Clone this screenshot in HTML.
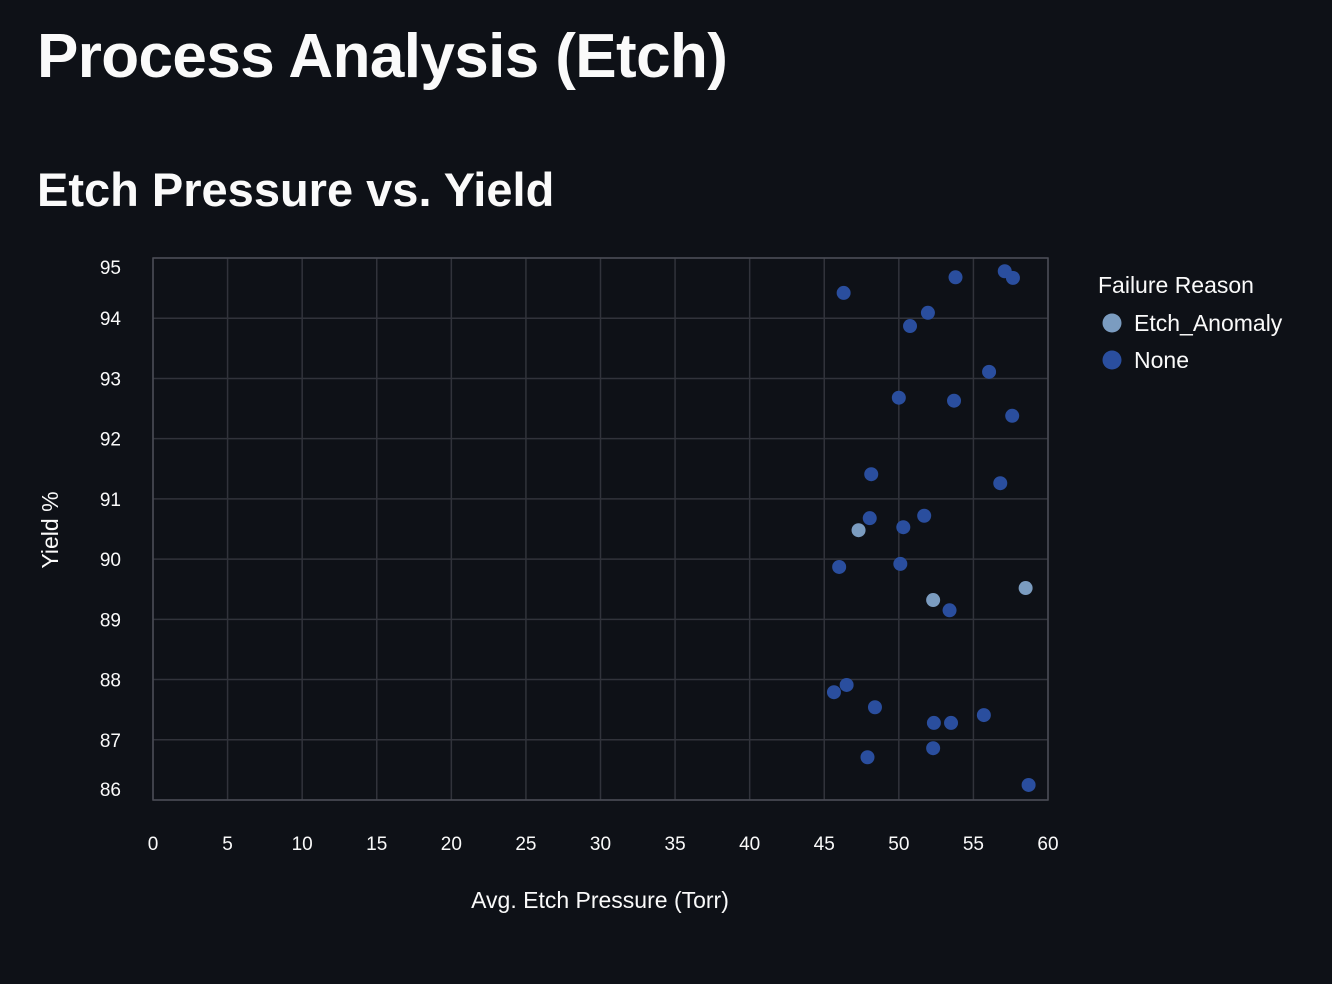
<!DOCTYPE html>
<html><head><meta charset="utf-8"><style>
html,body{margin:0;padding:0;background:#0e1117;width:1332px;height:984px;overflow:hidden;font-family:"Liberation Sans",sans-serif;color:#fafafa}
h1{position:absolute;left:37px;top:21px;margin:0;font-size:62px;font-weight:700;letter-spacing:-0.6px}
h2{position:absolute;left:37px;top:162px;margin:0;font-size:47px;font-weight:700;letter-spacing:0px}
svg{position:absolute;left:0;top:0}
</style></head><body>
<h1>Process Analysis (Etch)</h1>
<h2>Etch Pressure vs. Yield</h2>
<svg id="chart" width="1332" height="984"></svg>
<script>
const xTicks=[0,5,10,15,20,25,30,35,40,45,50,55,60];
const yTicks=[86,87,88,89,90,91,92,93,94,95];
const pressure=[57.1,53.8,57.65,46.3,51.95,50.75,56.05,50.0,53.7,57.6,48.15,56.8,51.7,48.05,50.3,47.3,46.0,50.1,58.5,52.3,53.4,46.5,45.65,48.4,55.7,52.35,53.5,52.3,47.9,58.7];
const yieldPct=[94.78,94.68,94.67,94.42,94.09,93.87,93.11,92.68,92.63,92.38,91.41,91.26,90.72,90.68,90.53,90.48,89.87,89.92,89.52,89.32,89.15,87.91,87.79,87.54,87.41,87.28,87.28,86.86,86.71,86.25];
const reason=["None","None","None","None","None","None","None","None","None","None","None","None","None","None","None","Etch_Anomaly","None","None","Etch_Anomaly","Etch_Anomaly","None","None","None","None","None","None","None","None","None","None"];
const categories=["Etch_Anomaly","None"];
const colors={"Etch_Anomaly":"#7b9cc0","None":"#2a4e9e"};
const L=153,R=1048,T=258,B=800;
const sx=v=>L+(v-0)/60*(R-L);
const sy=v=>B-(v-86)/9*(B-T);
const svg=document.getElementById('chart');
const NS="http://www.w3.org/2000/svg";
function mk(t,a,txt){const e=document.createElementNS(NS,t);for(const k in a)e.setAttribute(k,a[k]);if(txt!==undefined)e.textContent=txt;svg.appendChild(e);return e;}
xTicks.forEach(v=>{
 const g=mk('line',{x1:sx(v),x2:sx(v),y1:T,y2:B,stroke:'#31333b','stroke-width':1.5});
 
 const t=mk('text',{x:sx(v),y:850,'text-anchor':'middle','font-size':19,fill:'#fafafa'},v);
 
});
yTicks.forEach((v,i)=>{
 const g=mk('line',{x1:L,x2:R,y1:sy(v),y2:sy(v),stroke:'#31333b','stroke-width':1.5});
 
 let yy=sy(v)+7; if(i===0)yy-=11; if(i===yTicks.length-1)yy+=9;
 const t=mk('text',{x:121,y:yy,'text-anchor':'end','font-size':19,fill:'#fafafa'},v);
 
});
const ax=mk('rect',{x:L,y:T,width:R-L,height:B-T,fill:'none',stroke:'#4a4c55','stroke-width':1.5});

const xt=mk('text',{x:600,y:908,'text-anchor':'middle','font-size':23,fill:'#fafafa'},'Avg. Etch Pressure (Torr)');

const yt=mk('text',{x:58,y:530,'text-anchor':'middle','font-size':23,fill:'#fafafa',transform:'rotate(-90 58 530)'},'Yield %');

pressure.forEach((p,i)=>{
 const c=mk('circle',{cx:sx(p),cy:sy(yieldPct[i]),r:7,fill:colors[reason[i]]});
 
});
const lt=mk('text',{x:1098,y:293,'font-size':23,fill:'#fafafa'},'Failure Reason');

categories.forEach((c,i)=>{
 const y=323+i*37;
 const d=mk('circle',{cx:1112,cy:y,r:9.5,fill:colors[c]});
 
 const t=mk('text',{x:1134,y:y+8,'font-size':23,fill:'#fafafa'},c);
 
});
</script>
</body></html>
